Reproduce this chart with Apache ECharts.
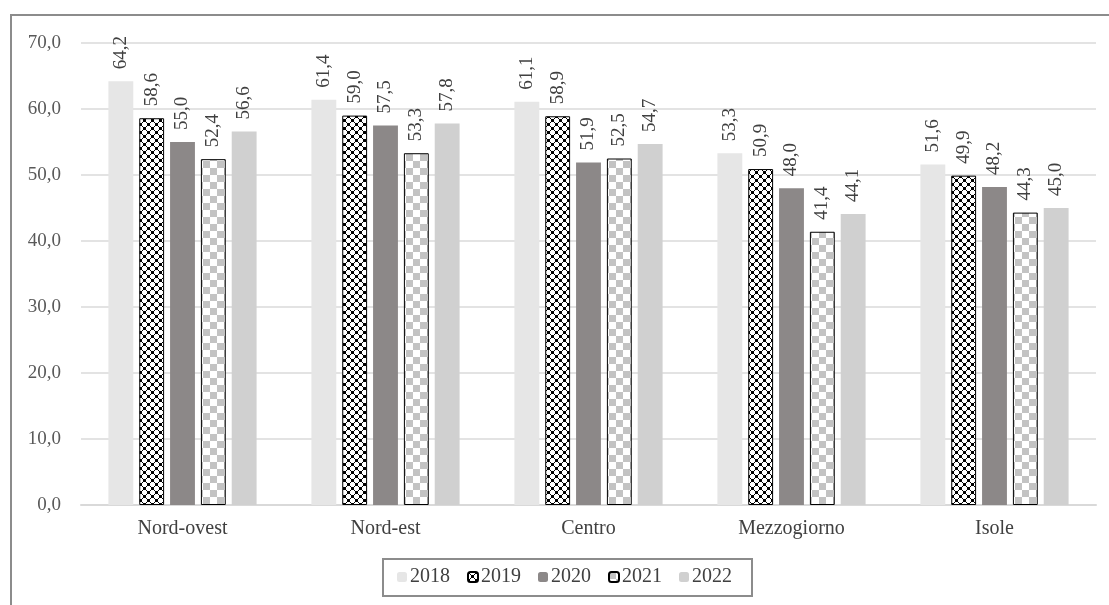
<!DOCTYPE html>
<html>
<head>
<meta charset="utf-8">
<script src="https://cdn.jsdelivr.net/npm/echarts@6/dist/echarts.min.js"></script>
<style>
  html, body { margin: 0; padding: 0; background: #fff; }
  #chart { width: 1109px; height: 605px; }
</style>
</head>
<body>
<div id="chart"></div>
<script>
// categorie e valori
var regions = ['Nord-ovest', 'Nord-est', 'Centro', 'Mezzogiorno', 'Isole'];
var years = ['2018', '2019', '2020', '2021', '2022'];
var v2018 = [64.2, 61.4, 61.1, 53.3, 51.6];
var v2019 = [58.6, 59.0, 58.9, 50.9, 49.9];
var v2020 = [55.0, 57.5, 51.9, 48.0, 48.2];
var v2021 = [52.4, 53.3, 52.5, 41.4, 44.3];
var v2022 = [56.6, 57.8, 54.7, 44.1, 45.0];

var font = '"Liberation Serif", "DejaVu Serif", serif';

// trama a rete (2019)
function netPattern() {
  var c = document.createElement('canvas');
  c.width = 8; c.height = 8;
  var g = c.getContext('2d');
  g.fillStyle = '#fff';
  g.fillRect(0, 0, 8, 8);
  g.fillStyle = '#000';
  // blocchi neri agli angoli e al centro, puntino nei vuoti
  var px = [[0,0],[1,0],[7,0],[0,1],[0,7],[1,1],[7,7],[1,7],[7,1],
            [4,4],[3,4],[5,4],[4,3],[4,5],[3,3],[5,5],[3,5],[5,3],
            [2,2],[6,6],[2,6],[6,2]];
  px.forEach(function (p) { g.fillRect(p[0], p[1], 1, 1); });
  return c;
}

// scacchiera (2021)
function checkPattern() {
  var c = document.createElement('canvas');
  c.width = 14; c.height = 14;
  var g = c.getContext('2d');
  g.fillStyle = '#fff';
  g.fillRect(0, 0, 14, 14);
  g.fillStyle = '#c3c3c3';
  g.fillRect(0, 0, 7, 7);
  g.fillRect(7, 7, 7, 7);
  return c;
}

function label() {
  return {
    show: true,
    position: 'top',
    rotate: 90,
    align: 'left',
    verticalAlign: 'middle',
    distance: 12,
    fontFamily: font,
    fontSize: 19,
    color: '#404040',
    formatter: function (p) { return p.value.toFixed(1).replace('.', ','); }
  };
}

function serie(name, data, itemStyle) {
  return {
    name: name,
    type: 'bar',
    data: data,
    barGap: '24%',
    barCategoryGap: '27%',
    itemStyle: itemStyle,
    label: label()
  };
}

var myEcharts = echarts.init(document.getElementById('chart'));
myEcharts.setOption({
  animation: false,
  graphic: [{
    type: 'rect',
    shape: { x: 11, y: 15, width: 1120, height: 620 },
    style: { fill: 'none', stroke: '#8c8c8c', lineWidth: 2 },
    z: -1
  }, {
    type: 'rect',
    shape: { x: 383, y: 559, width: 369, height: 37 },
    style: { fill: 'none', stroke: '#8c8c8c', lineWidth: 2 },
    z: -1
  }],
  grid: {
    left: 81,
    right: 13,
    top: 43,
    bottom: 100
  },
  legend: {
    data: years,
    bottom: 13,
    left: 392,
    itemWidth: 10,
    itemHeight: 10,
    itemGap: 17,
    textStyle: { fontFamily: font, fontSize: 20, color: '#404040', padding: [0, 0, 0, -2] }
  },
  xAxis: {
    type: 'category',
    data: regions,
    axisTick: { show: false },
    axisLine: { lineStyle: { color: '#d9d9d9', width: 2 } },
    axisLabel: { fontFamily: font, fontSize: 20, color: '#404040', margin: 14 }
  },
  yAxis: {
    type: 'value',
    min: 0,
    max: 70,
    interval: 10,
    axisLine: { show: false },
    axisTick: { show: false },
    splitLine: { lineStyle: { color: '#e3e3e3', width: 2 } },
    axisLabel: {
      fontFamily: font, fontSize: 19, color: '#595959', margin: 20,
      formatter: function (v) { return v.toFixed(1).replace('.', ','); }
    }
  },
  series: [
    serie('2018', v2018, { color: '#e6e6e6' }),
    serie('2019', v2019, { color: { image: netPattern(), repeat: 'repeat' }, borderColor: '#000', borderWidth: 1 }),
    serie('2020', v2020, { color: '#8c8888' }),
    serie('2021', v2021, { color: { image: checkPattern(), repeat: 'repeat' }, borderColor: '#000', borderWidth: 1 }),
    serie('2022', v2022, { color: '#d0d0d0' })
  ]
});
</script>
</body>
</html>
